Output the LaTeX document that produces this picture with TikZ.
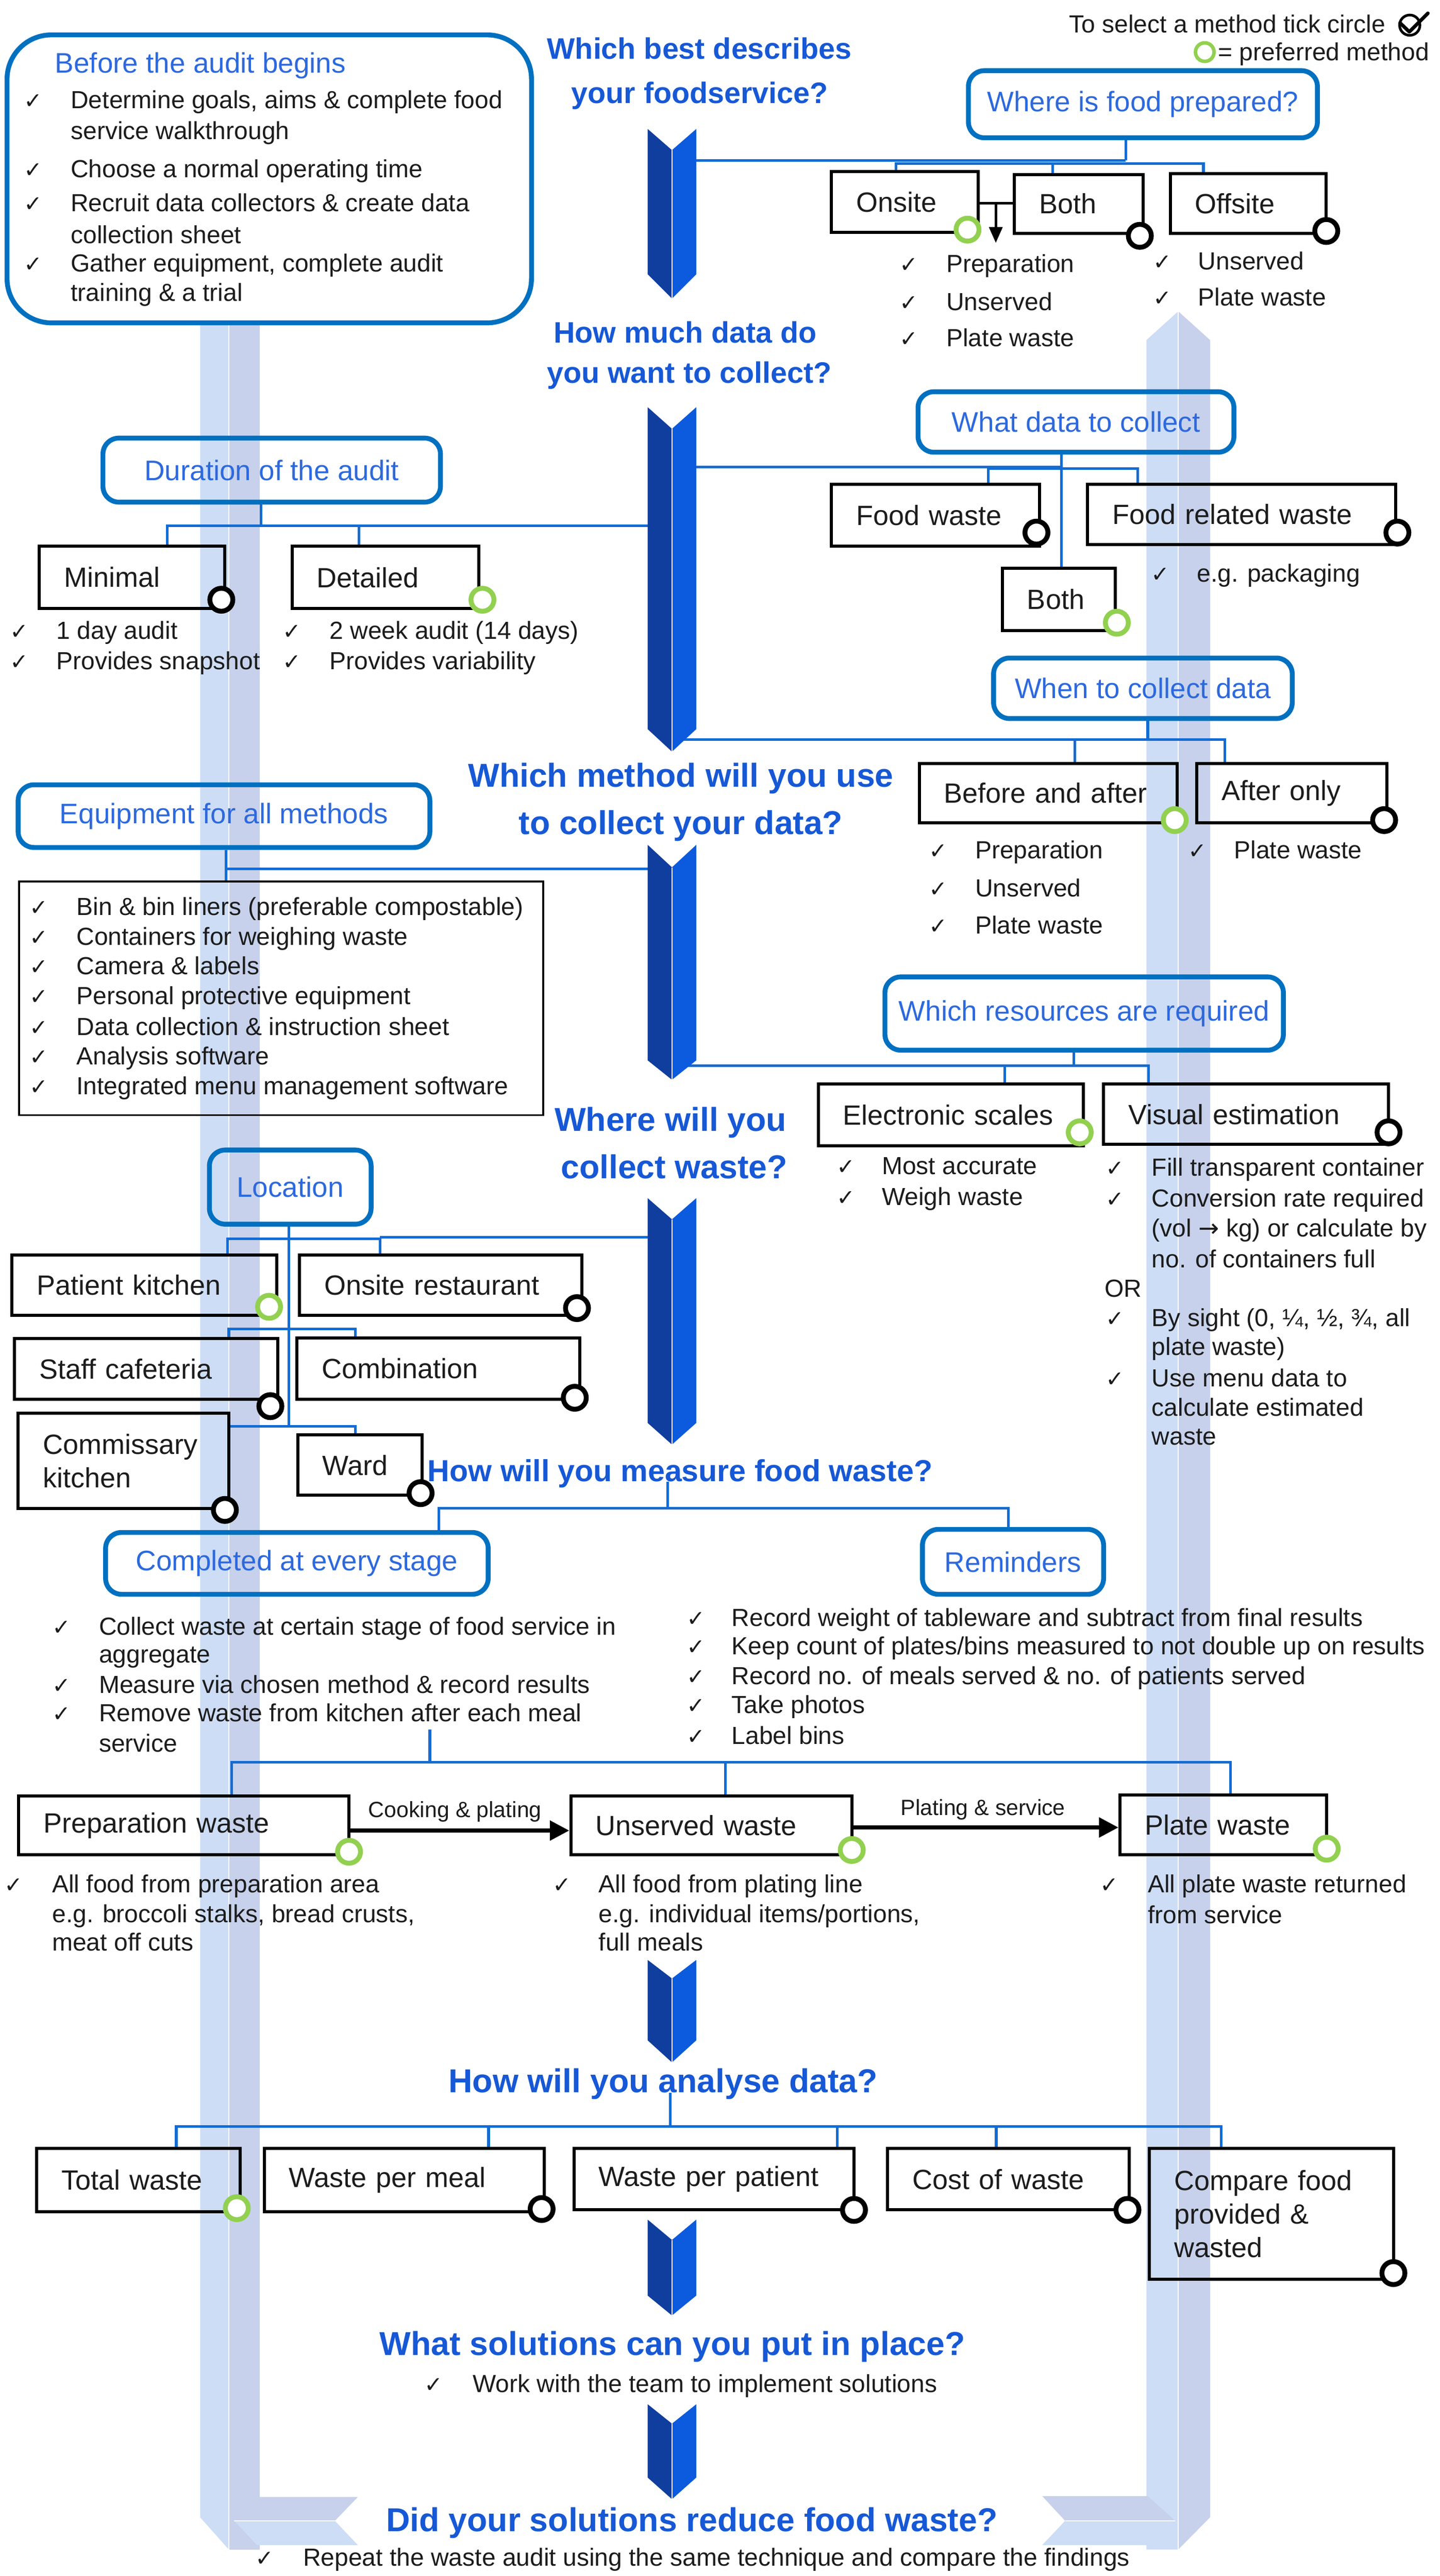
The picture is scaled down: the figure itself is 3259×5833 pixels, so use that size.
\documentclass[tikz,border=0pt]{standalone}
\usepackage{fontspec}
\setmainfont{Liberation Sans}
\newfontfamily\djv{DejaVu Sans}
\usetikzlibrary{arrows.meta}
\definecolor{txt}{RGB}{28,28,28}
\definecolor{tblue}{RGB}{22,88,214}
\definecolor{btxt}{RGB}{45,105,222}
\definecolor{boxblue}{RGB}{0,112,192}
\definecolor{cblue}{RGB}{20,108,210}
\definecolor{chd}{RGB}{16,62,158}
\definecolor{chb}{RGB}{12,90,222}
\definecolor{bandA}{RGB}{205,221,246}
\definecolor{bandB}{RGB}{199,209,235}
\definecolor{mgreen}{RGB}{146,208,80}
\newcounter{nn}
\newcommand\chkline[4]{\stepcounter{nn}\node[ck] (lc\thenn) at (#1,#3) {✓};\node[lt] (ln\thenn) at (#2,#3) {#4};}
\newcommand\txtline[3]{\stepcounter{nn}\node[lt] (ln\thenn) at (#1,#2) {#3};}
\newcommand\bxn[6]{\pgfmathsetmacro\bxcx{(#2+#4)/2}\pgfmathsetmacro\bxcy{(#3+#5)/2}\pgfmathsetmacro\bxw{#4-#2-112}\pgfmathsetmacro\bxh{#5-#3}\node[bx, text width=\bxw pt, minimum height=\bxh pt] (#1) at (\bxcx,\bxcy) {#6};}
\newcommand\bbn[6]{\pgfmathsetmacro\bxcx{(#2+#4)/2}\pgfmathsetmacro\bxcy{(#3+#5)/2}\pgfmathsetmacro\bxw{#4-#2}\pgfmathsetmacro\bxh{#5-#3}\node[bb, minimum width=\bxw pt, minimum height=\bxh pt] (#1) at (\bxcx,\bxcy) {#6};}
\newcommand\chev[4]{\fill[chd] (1466,#1) -- (1521,#2) -- (1521,#4) -- (1466,#3) -- cycle;\fill[chb] (1521,#2) -- (1576,#1) -- (1576,#3) -- (1521,#4) -- cycle;\draw[white, line width=2.5pt] (1521,#2) -- (1521,#4);}
\tikzset{
 lt/.style={inner sep=0pt, anchor=west, text height=40pt, text depth=0pt, font=\fontsize{56}{70}\selectfont, text=txt},
 ck/.style={inner sep=0pt, anchor=west, text height=40pt, text depth=0pt, font=\djv\fontsize{50}{60}\selectfont, text=txt},
 bx/.style={draw=black, line width=7pt, inner xsep=56pt, inner ysep=0pt, align=left, font=\fontsize{63}{76}\selectfont, text=txt},
 bb/.style={draw=boxblue, line width=11pt, rounded corners=36pt, inner sep=0pt, align=center, font=\fontsize{64}{78}\selectfont, text=btxt},
 ttl/.style={inner sep=0pt, font=\bfseries\fontsize{75}{90}\selectfont, text=tblue, text height=54pt, text depth=0pt},
 ttls/.style={inner sep=0pt, font=\bfseries\fontsize{67}{80}\selectfont, text=tblue, text height=48pt, text depth=0pt},
 conn/.style={draw=cblue, line width=6pt},
 blk/.style={draw=black, line width=6pt},
 mk/.style={circle, draw=black, line width=11pt, fill=white, minimum size=52pt, inner sep=0pt},
 mkg/.style={mk, draw=mgreen},
 arr/.style={draw=black, line width=9pt, -{Triangle[length=44pt,width=44pt]}},
 lbl/.style={inner sep=0pt, font=\fontsize{50}{60}\selectfont, text=txt},
}
\begin{document}
\begin{tikzpicture}[x=1pt,y=-1pt]
\useasboundingbox (0,0) rectangle (3259,5833);
\fill[white] (0,0) rectangle (3259,5833);
% ---------- pale cycle bands
\fill[bandA] (453,735) -- (518,735) -- (518,5773) -- (453,5700) -- cycle;
\fill[bandB] (518,735) -- (588,735) -- (588,5773) -- (518,5773) -- cycle;
\fill[bandA] (2595,770) -- (2667,705) -- (2667,5773) -- (2595,5773) -- cycle;
\fill[bandB] (2667,705) -- (2739,770) -- (2739,5700) -- (2667,5773) -- cycle;
\draw[white, line width=3pt] (518,735) -- (518,5773);
\draw[white, line width=3pt] (2667,705) -- (2667,5773);
\fill[bandB] (582,5654) -- (810,5654) -- (758,5708) -- (530,5708) -- cycle;
\fill[bandA] (530,5708) -- (758,5708) -- (810,5763) -- (582,5763) -- cycle;
\draw[white, line width=3pt] (530,5708) -- (758,5708);
\fill[bandB] (2359,5652) -- (2598,5652) -- (2660,5708) -- (2411,5708) -- cycle;
\fill[bandA] (2411,5708) -- (2660,5708) -- (2598,5763) -- (2359,5763) -- cycle;
\draw[white, line width=3pt] (2411,5708) -- (2660,5708);
% ---------- legend
\node[lt, anchor=east] (lg1) at (3136,54) {To select a method tick circle};
\node[circle, draw=black, line width=6pt, minimum size=46pt, inner sep=0pt] (lgi) at (3191,57) {};
\draw[black, line width=8pt, line cap=round, line join=round] (3169,52) -- (3190,72) -- (3232,30);
\node[mkg, minimum size=42pt, line width=8pt] (lgc) at (2727,118) {};
\node[lt] (lg2) at (2757,117) {= preferred method};
% ---------- titles
\node[ttls] (q1a) at (1583,110) {Which best describes};
\node[ttls] (q1b) at (1584,210) {your foodservice?};
\node[ttls] (q2a) at (1551,752) {How much data do};
\node[ttls] (q2b) at (1560,843) {you want to collect?};
\node[ttl] (q3a) at (1541,1755) {Which method will you use};
\node[ttl] (q3b) at (1541,1862) {to collect your data?};
\node[ttl] (q4a) at (1518,2534) {Where will you};
\node[ttl] (q4b) at (1526,2642) {collect waste?};
\node[ttl, anchor=west, font=\bfseries\fontsize{69}{80}\selectfont, text height=50pt] (q5) at (968,3330) {How will you measure food waste?};
\node[ttl] (q6) at (1501,4711) {How will you analyse data?};
\node[ttl] (q7) at (1522,5306) {What solutions can you put in place?};
\node[ttl] (q8) at (1566,5705) {Did your solutions reduce food waste?};
% ---------- before the audit
\node[bb, rounded corners=100pt, minimum width=1187pt, minimum height=652pt] (before) at (609.5,405) {};
\node[bb, anchor=west, draw=none] (beft) at (119,148) {Before the audit begins};
\chkline{54}{160}{225}{Determine goals, aims \& complete food}
\txtline{160}{296}{service walkthrough}
\chkline{54}{160}{382}{Choose a normal operating time}
\chkline{54}{160}{459}{Recruit data collectors \& create data}
\txtline{160}{531}{collection sheet}
\chkline{54}{160}{595}{Gather equipment, complete audit}
\txtline{160}{662}{training \& a trial}
% ---------- where is food prepared
\bbn{where}{2192}{160}{2982}{312}{Where is food prepared?}
\bxn{onsite}{1882}{389}{2214}{526}{Onsite}
\bxn{both1}{2296}{395}{2588}{528}{Both}
\bxn{offsite}{2649}{393}{3002}{528}{Offsite}
\chkline{2036}{2142}{596}{Preparation}
\chkline{2036}{2142}{683}{Unserved}
\chkline{2036}{2142}{764}{Plate waste}
\chkline{2610}{2712}{591}{Unserved}
\chkline{2610}{2712}{672}{Plate waste}
% ---------- what data / duration / when
\bbn{whatdata}{2078}{887}{2793}{1024}{What data to collect}
\bxn{foodwaste}{1882}{1097}{2353}{1237}{Food waste}
\bxn{foodrel}{2462}{1097}{3159}{1233}{Food related waste}
\bxn{both2}{2269}{1287}{2525}{1428}{Both}
\chkline{2605}{2709}{1298}{e.g. packaging}
\bbn{duration}{233}{992}{997}{1137}{Duration of the audit}
\bxn{minimal}{89}{1236}{509}{1378}{Minimal}
\bxn{detailed}{661}{1237}{1084}{1378}{Detailed}
\chkline{22}{128}{1427}{1 day audit}
\chkline{22}{128}{1496}{Provides snapshot}
\chkline{640}{746}{1427}{2 week audit (14 days)}
\chkline{640}{746}{1496}{Provides variability}
\bbn{when}{2249}{1490}{2925}{1627}{When to collect data}
\bxn{beforeafter}{2081}{1729}{2664}{1863}{Before and after}
\bxn{afteronly}{2709}{1729}{3139}{1863}{After only}
\chkline{2103}{2207}{1924}{Preparation}
\chkline{2103}{2207}{2011}{Unserved}
\chkline{2103}{2207}{2094}{Plate waste}
\chkline{2689}{2793}{1924}{Plate waste}
% ---------- equipment / resources
\bbn{equip}{41}{1777}{973}{1919}{Equipment for all methods}
\node[draw=black, line width=4.5pt, minimum width=1187pt, minimum height=529pt, inner sep=0pt] (eqlist) at (636.5,2260.5) {};
\chkline{67}{173}{2053}{Bin \& bin liners (preferable compostable)}
\chkline{67}{173}{2120}{Containers for weighing waste}
\chkline{67}{173}{2187}{Camera \& labels}
\chkline{67}{173}{2254}{Personal protective equipment}
\chkline{67}{173}{2324}{Data collection \& instruction sheet}
\chkline{67}{173}{2391}{Analysis software}
\chkline{67}{173}{2458}{Integrated menu management software}
\bbn{resources}{2003}{2212}{2905}{2378}{Which resources are required}
\bxn{escales}{1852}{2455}{2452}{2595}{Electronic scales}
\bxn{visual}{2498}{2455}{3143}{2591}{Visual estimation}
\chkline{1894}{1996}{2639}{Most accurate}
\chkline{1894}{1996}{2709}{Weigh waste}
\chkline{2503}{2607}{2643}{Fill transparent container}
\chkline{2503}{2607}{2713}{Conversion rate required}
\txtline{2607}{2780}{(vol {\djv →} kg) or calculate by}
\txtline{2607}{2850}{no. of containers full}
\txtline{2500}{2917}{OR}
\chkline{2503}{2607}{2983}{By sight (0, ¼, ½, ¾, all}
\txtline{2607}{3049}{plate waste)}
\chkline{2503}{2607}{3120}{Use menu data to}
\txtline{2607}{3186}{calculate estimated}
\txtline{2607}{3252}{waste}
% ---------- location
\bbn{location}{474}{2604}{840}{2772}{Location}
\bxn{patient}{27}{2842}{627}{2978}{Patient kitchen}
\bxn{onsiterest}{678}{2842}{1317}{2978}{Onsite restaurant}
\bxn{staff}{33}{3031}{629}{3168}{Staff cafeteria}
\bxn{combination}{672}{3030}{1312}{3168}{Combination}
\bxn{commissary}{41}{3200}{518}{3416}{Commissary\\kitchen}
\bxn{ward}{674}{3249}{956}{3386}{Ward}
% ---------- measure
\bbn{completed}{239}{3470}{1105}{3610}{Completed at every stage}
\bbn{reminders}{2088}{3463}{2498}{3610}{Reminders}
\chkline{118}{224}{3682}{Collect waste at certain stage of food service in}
\txtline{224}{3745}{aggregate}
\chkline{118}{224}{3814}{Measure via chosen method \& record results}
\chkline{118}{224}{3878}{Remove waste from kitchen after each meal}
\txtline{224}{3947}{service}
\chkline{1554}{1656}{3662}{Record weight of tableware and subtract from final results}
\chkline{1554}{1656}{3727}{Keep count of plates/bins measured to not double up on results}
\chkline{1554}{1656}{3794}{Record no. of meals served \& no. of patients served}
\chkline{1554}{1656}{3860}{Take photos}
\chkline{1554}{1656}{3929}{Label bins}
\bxn{prepw}{42}{4067}{790}{4200}{Preparation waste}
\bxn{unservw}{1292}{4067}{1928}{4200}{Unserved waste}
\bxn{platew}{2535}{4064}{3003}{4200}{Plate waste}
\node[lbl] (lab1) at (1030,4102) {Cooking \& plating};
\node[lbl] (lab2) at (2225,4097) {Plating \& service};
\chkline{10}{118}{4266}{All food from preparation area}
\txtline{118}{4333}{e.g. broccoli stalks, bread crusts,}
\txtline{118}{4397}{meat off cuts}
\chkline{1251}{1355}{4266}{All food from plating line}
\txtline{1355}{4333}{e.g. individual items/portions,}
\txtline{1355}{4397}{full meals}
\chkline{2490}{2598}{4266}{All plate waste returned}
\txtline{2598}{4336}{from service}
% ---------- analyse
\bxn{total}{83}{4865}{544}{5008}{Total waste}
\bxn{permeal}{598}{4865}{1232}{5008}{Waste per meal}
\bxn{perpatient}{1299}{4865}{1933}{5004}{Waste per patient}
\bxn{cost}{2009}{4865}{2556}{5004}{Cost of waste}
\bxn{compare}{2602}{4865}{3154}{5161}{Compare food\\provided \&\\wasted}
\chkline{960}{1070}{5397}{Work with the team to implement solutions}
\chkline{578}{686}{5790}{Repeat the waste audit using the same technique and compare the findings}
% ---------- connectors
\coordinate (c1r) at (1560,363);
\coordinate (wj) at (2548,363);
\draw[conn] (c1r) -- (wj);
\draw[conn] (where.south -| wj) -- (wj);
\draw[conn] (onsite.north -| 2028,0) -- (2028,370) -- (2724,370) -- (offsite.north -| 2724,0);
\draw[conn] (2383,370) -- (both1.north -| 2383,0);
\coordinate (c2a) at (1560,1058);
\coordinate (wdj) at (2403,1058);
\draw[conn] (c2a) -- (wdj);
\draw[conn] (whatdata.south -| wdj) -- (both2.north -| wdj);
\draw[conn] (foodwaste.north -| 2237,0) -- (2237,1061) -- (2575,1061) -- (foodrel.north -| 2575,0);
\coordinate (c2b) at (1480,1190);
\draw[conn] (c2b) -- (813,1190);
\draw[conn] (duration.south -| 591,0) -- (591,1190);
\draw[conn] (minimal.north -| 379,0) -- (379,1190) -- (813,1190) -- (detailed.north -| 813,0);
\coordinate (c2c) at (1540,1675);
\draw[conn] (c2c) -- (2598,1675);
\draw[conn] (when.south -| 2598,0) -- (2598,1675);
\draw[conn] (beforeafter.north -| 2433,0) -- (2433,1675) -- (2772,1675) -- (afteronly.north -| 2772,0);
\coordinate (c3a) at (1490,1967);
\draw[conn] (c3a) -- (512,1967);
\draw[conn] (equip.south -| 512,0) -- (eqlist.north -| 512,0);
\coordinate (c3b) at (1540,2413);
\draw[conn] (c3b) -- (2600,2413);
\draw[conn] (resources.south -| 2431,0) -- (2431,2413);
\draw[conn] (escales.north -| 2274,0) -- (2274,2413) -- (2600,2413) -- (visual.north -| 2600,0);
\coordinate (c4a) at (1480,2802);
\draw[conn] (c4a) -- (860,2802);
\draw[conn] (location.south -| 654,0) -- (654,3230);
\draw[conn] (patient.north -| 515,0) -- (515,2805) -- (860,2805) -- (onsiterest.north -| 860,0);
\draw[conn] (staff.north -| 518,0) -- (518,3009) -- (804,3009) -- (combination.north -| 804,0);
\draw[conn] (commissary.east |- 0,3230) -- (804,3230) -- (ward.north -| 804,0);
\coordinate (m5) at (1511,3415);
\draw[conn] (q5.south -| m5) -- (m5);
\draw[conn] (completed.north -| 993,0) -- (993,3415) -- (2282,3415) -- (reminders.north -| 2282,0);
\coordinate (cs) at (973,3916);
\draw[conn] (cs) -- (973,3990);
\draw[conn] (prepw.north -| 524,0) -- (524,3990) -- (2785,3990) -- (platew.north -| 2785,0);
\draw[conn] (1642,3990) -- (unservw.north -| 1642,0);
\coordinate (m6) at (1517,4815);
\draw[conn] (q6.south -| m6) -- (m6);
\draw[conn] (total.north -| 399,0) -- (399,4815) -- (2764,4815) -- (compare.north -| 2764,0);
\draw[conn] (1106,4815) -- (permeal.north -| 1106,0);
\draw[conn] (1895,4815) -- (perpatient.north -| 1895,0);
\draw[conn] (2255,4815) -- (cost.north -| 2255,0);
% black arrows
\draw[blk] (onsite.east |- 0,460) -- (both1.west |- 0,460);
\coordinate (ob) at (2254,460);
\draw[blk, -{Triangle[length=36pt,width=30pt]}] (ob) -- (2254,550);
\draw[arr] (prepw.east |- 0,4145) -- (unservw.west |- 0,4145);
\draw[arr] (unservw.east |- 0,4138) -- (platew.west |- 0,4138);
% ---------- markers
\node[mkg] (m-onsite) at (2190,520) {};
\node[mk] (m-both1) at (2580,534) {};
\node[mk] (m-offsite) at (3002,523) {};
\node[mk] (m-minimal) at (501,1358) {};
\node[mkg] (m-detailed) at (1092,1358) {};
\node[mk] (m-foodwaste) at (2346,1206) {};
\node[mk] (m-foodrel) at (3163,1206) {};
\node[mkg] (m-both2) at (2528,1410) {};
\node[mkg] (m-ba) at (2659,1857) {};
\node[mk] (m-ao) at (3133,1857) {};
\node[mkg] (m-es) at (2444,2564) {};
\node[mk] (m-vis) at (3143,2564) {};
\node[mkg] (m-pat) at (609,2959) {};
\node[mk] (m-rest) at (1306,2962) {};
\node[mk] (m-staff) at (612,3184) {};
\node[mk] (m-comb) at (1301,3165) {};
\node[mk] (m-comm) at (509,3419) {};
\node[mk] (m-ward) at (952,3381) {};
\node[mkg] (m-prep) at (790,4193) {};
\node[mkg] (m-uns) at (1928,4189) {};
\node[mkg] (m-plate) at (3003,4186) {};
\node[mkg] (m-total) at (536,5000) {};
\node[mk] (m-meal) at (1226,5002) {};
\node[mk] (m-pati) at (1933,5004) {};
\node[mk] (m-cost) at (2552,5004) {};
\node[mk] (m-comp) at (3154,5147) {};
% ---------- chevrons
\chev{292}{340}{621}{676}
\chev{922}{971}{1651}{1702}
\chev{1913}{1964}{2401}{2445}
\chev{2713}{2761}{3222}{3271}
\chev{4438}{4480}{4620}{4670}
\chev{5026}{5072}{5198}{5243}
\chev{5444}{5488}{5610}{5659}
\end{tikzpicture}
\end{document}
